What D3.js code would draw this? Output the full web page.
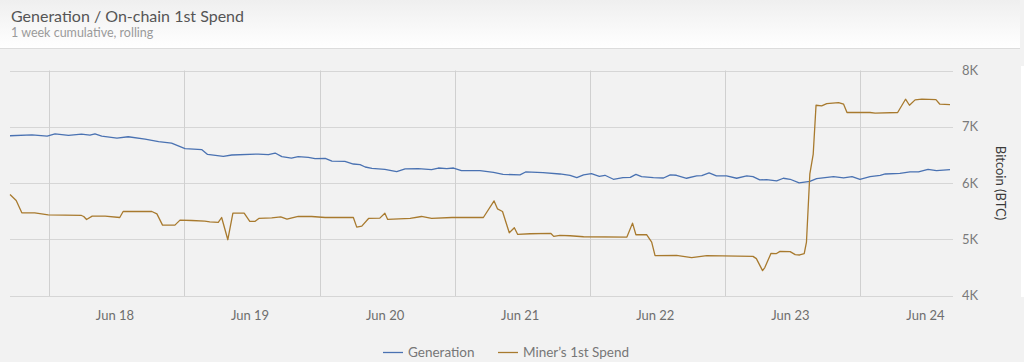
<!DOCTYPE html>
<html>
<head>
<meta charset="utf-8">
<script src="https://cdn.jsdelivr.net/npm/d3@7"></script>
<style>
  body { margin: 0; background: #f2f2f2; }
  svg { display: block; font-family: Lato, "Open Sans", sans-serif; }
</style>
</head>
<body>
<svg id="chart" width="1024" height="362"></svg>
<script>
// hours counted from the first sample (Jun 17 17:00)
const startTime = new Date(2018, 5, 17, 17, 0);

const genHours = [0, 3.9, 6.6, 8, 10.4, 12.7, 14.2, 15.1, 16.3, 19, 21, 24, 26.4, 28.7, 31.1, 34.1, 35.1, 37.9, 39.4, 44.1, 45.9, 47.1, 48.3, 50, 51.2, 53, 54.2, 56, 57.2, 59.5, 61, 62.2, 63.1, 64.3, 66.6, 68.7, 70.2, 72.5, 74.9, 76.1, 77.6, 78.8, 80.2, 83.5, 85.9, 87.6, 90.6, 91.6, 94.7, 97.7, 99.5, 100.7, 101.9, 103.3, 104.7, 105.7, 107.2, 108.9, 110.2, 111.2, 112.2, 114.3, 116.1, 117.3, 118.4, 120.2, 122, 122.9, 124.2, 125.5, 127.3, 129.1, 130.9, 132, 133.2, 134.4, 136.2, 137.4, 138.6, 140.2, 142.1, 143.3, 146.3, 148.1, 149.6, 151, 152.8, 154.6, 155.5, 158.1, 159.9, 161.4, 163.1, 164.6, 167];
const genValues = [6841, 6858, 6835, 6876, 6847, 6870, 6853, 6876, 6835, 6800, 6823, 6782, 6735, 6711, 6611, 6593, 6510, 6475, 6499, 6516, 6504, 6534, 6469, 6445, 6469, 6457, 6434, 6440, 6392, 6386, 6339, 6327, 6286, 6263, 6245, 6204, 6251, 6257, 6239, 6268, 6257, 6268, 6221, 6221, 6192, 6156, 6145, 6198, 6186, 6162, 6139, 6097, 6145, 6168, 6121, 6139, 6068, 6097, 6103, 6156, 6115, 6097, 6091, 6145, 6139, 6086, 6127, 6133, 6180, 6127, 6127, 6086, 6127, 6115, 6056, 6062, 6038, 6086, 6068, 6003, 6032, 6080, 6115, 6091, 6115, 6068, 6115, 6139, 6162, 6174, 6198, 6198, 6245, 6221, 6239];

const spendHours = [0, 1.1, 2.1, 4.4, 6.8, 12.7, 13.1, 13.6, 14.6, 16.9, 19.5, 20.1, 25.2, 26.1, 27.1, 29.3, 30.2, 32.3, 34.6, 35.5, 37, 37.6, 38.7, 39.6, 41.6, 42.6, 43.5, 44.2, 46.5, 48.1, 49.2, 51.2, 53.6, 56, 61, 61.6, 62.5, 63.7, 65.7, 66.6, 67.1, 71.1, 73.1, 74.9, 78.5, 84.1, 86, 86.6, 87.5, 88.7, 89.6, 90.2, 92.4, 96.1, 96.6, 97.7, 99.5, 101.9, 109.6, 110.6, 111.2, 113.1, 114, 114.6, 118.4, 121.1, 123.8, 132, 132.6, 133.7, 134.1, 135.2, 136.1, 136.8, 138.6, 139.5, 140.3, 141.1, 141.5, 142.1, 142.7, 143.2, 144.2, 145.1, 147.2, 148.1, 148.7, 152.8, 153.7, 157.7, 159.1, 159.8, 160.8, 162, 164.5, 165.2, 167];
const spendValues = [5796, 5690, 5472, 5472, 5437, 5425, 5407, 5354, 5413, 5413, 5389, 5496, 5496, 5454, 5254, 5254, 5342, 5336, 5324, 5313, 5301, 5389, 4994, 5466, 5466, 5319, 5319, 5372, 5383, 5401, 5360, 5407, 5407, 5389, 5389, 5218, 5236, 5372, 5378, 5466, 5354, 5372, 5407, 5372, 5389, 5389, 5684, 5543, 5496, 5118, 5206, 5088, 5100, 5106, 5053, 5071, 5065, 5047, 5041, 5289, 5083, 5083, 4953, 4711, 4717, 4676, 4711, 4699, 4658, 4445, 4499, 4752, 4746, 4788, 4782, 4729, 4723, 4746, 4953, 6162, 6516, 7383, 7372, 7413, 7431, 7401, 7254, 7254, 7242, 7254, 7490, 7383, 7478, 7490, 7484, 7401, 7395];

const yTicks = [4000, 5000, 6000, 7000, 8000];
const dayTicks = [18, 19, 20, 21, 22, 23, 24];
const seriesNames = ["Generation", "Miner\u2019s 1st Spend"];
const seriesColors = ["#4a72b2", "#a87a2e"];

const toDate = h => new Date(startTime.getTime() + h * 3600e3);

const svg = d3.select("#chart");

// header block
const defs = svg.append("defs");
const grad = defs.append("linearGradient")
    .attr("id", "head-grad")
    .attr("x1", "0%").attr("x2", "0%")
    .attr("y1", "0%").attr("y2", "100%");
grad.append("stop").attr("offset", 0).attr("stop-color", "#efefef");
grad.append("stop").attr("offset", 1).attr("stop-color", "#ffffff");

svg.append("rect")
    .attr("x", 0).attr("y", 0)
    .attr("width", 1020).attr("height", 48)
    .attr("fill", "url(#head-grad)");
svg.append("line")
    .attr("x1", 0).attr("x2", 1020)
    .attr("y1", 48.5).attr("y2", 48.5)
    .attr("stroke", "#dcdcdc");

svg.append("text")
    .attr("x", 11).attr("y", 22)
    .attr("fill", "#555")
    .style("font-size", "16px")
    .text("Generation / On-chain 1st Spend");
svg.append("text")
    .attr("x", 11).attr("y", 37)
    .attr("fill", "#9a9a9a")
    .style("font-size", "12.5px")
    .text("1 week cumulative, rolling");

// thin white strip on the right edge
svg.append("rect")
    .attr("x", 1021).attr("y", 66)
    .attr("width", 3).attr("height", 231)
    .attr("fill", "#fff");

// scales
const x = d3.scaleTime()
    .domain([toDate(0), toDate(167)])
    .range([10, 950]);
const y = d3.scaleLinear()
    .domain([4000, 8000])
    .range([295.7, 70.5]);

// horizontal grid
svg.append("g")
    .selectAll("line")
    .data(yTicks)
    .join("line")
    .attr("x1", 10).attr("x2", 953)
    .attr("y1", d => Math.round(y(d)) + 0.5)
    .attr("y2", d => Math.round(y(d)) + 0.5)
    .attr("stroke", "#d6d6d6")
    .attr("stroke-width", 1.2);

// vertical grid at midnight
const midnights = dayTicks.map(d => new Date(2018, 5, d));
svg.append("g")
    .selectAll("line")
    .data(midnights)
    .join("line")
    .attr("x1", d => Math.round(x(d)) + 0.5)
    .attr("x2", d => Math.round(x(d)) + 0.5)
    .attr("y1", 70.5).attr("y2", 296)
    .attr("stroke", "#d0d0d0")
    .attr("stroke-width", 1);

// y labels
svg.append("g")
    .selectAll("text")
    .data(yTicks)
    .join("text")
    .attr("x", 962)
    .attr("y", d => y(d) + 4.5)
    .attr("fill", "#7a7a7a")
    .style("font-size", "13px")
    .text(d => d3.format("~s")(d).replace("k", "K"));

svg.append("text")
    .attr("transform", "translate(996,183) rotate(90)")
    .attr("text-anchor", "middle")
    .attr("fill", "#3a3a3a")
    .style("font-size", "13px")
    .text("Bitcoin (BTC)");

// x labels at noon
const fmt = d3.timeFormat("%b %d");
svg.append("g")
    .selectAll("text")
    .data(dayTicks.map(d => new Date(2018, 5, d, 12)))
    .join("text")
    .attr("x", d => x(d) - 2)
    .attr("y", 320)
    .attr("text-anchor", "middle")
    .attr("fill", "#6e6e6e")
    .style("font-size", "13px")
    .text(d => fmt(d));

// lines
const line = d3.line()
    .x(d => x(toDate(d[0])))
    .y(d => y(d[1]));

const series = [
    d3.zip(genHours, genValues),
    d3.zip(spendHours, spendValues)
];

series.forEach((pts, i) => {
    svg.append("path")
        .datum(pts)
        .attr("fill", "none")
        .attr("stroke", seriesColors[i])
        .attr("stroke-width", 1.3)
        .attr("stroke-linejoin", "round")
        .attr("d", line);
});

// legend
const legendX = [383, 498];
const legend = svg.append("g");
seriesNames.forEach((name, i) => {
    legend.append("line")
        .attr("x1", legendX[i]).attr("x2", legendX[i] + 20)
        .attr("y1", 352.5).attr("y2", 352.5)
        .attr("stroke", seriesColors[i])
        .attr("stroke-width", 1.3);
    legend.append("text")
        .attr("x", legendX[i] + 25)
        .attr("y", 357)
        .attr("fill", "#777")
        .style("font-size", "13.5px")
        .text(name);
});
</script>
</body>
</html>
